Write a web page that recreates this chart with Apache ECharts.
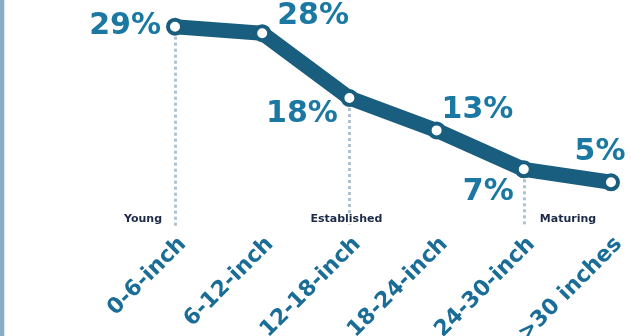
<!DOCTYPE html>
<html>
<head>
<meta charset="utf-8">
<script src="https://cdn.jsdelivr.net/npm/echarts@6/dist/echarts.min.js"></script>
<style>
  html, body { margin: 0; padding: 0; background: #ffffff; }
  #chart { width: 631px; height: 336px; }
</style>
</head>
<body>
<div id="chart"></div>
<script>
const categories = ['0-6-inch', '6-12-inch', '12-18-inch', '18-24-inch', '24-30-inch', '>30 inches']
const shares = [29, 28, 18, 13, 7, 5]
const stageNames = ['Young', 'Established', 'Maturing']
const stageAt = [0, 2, 4]   // category index where each stage marker sits

const yMin = -1.9
const yMax = 30

// label placement for each point (style only)
const valueLabelPlace = [
  { position: 'left', distance: 5, offset: [0, 0] },
  { position: 'right', distance: 6, offset: [0, -16.5] },
  { position: 'left', distance: 2.5, offset: [0, 16.7] },
  { position: 'right', distance: 0, offset: [-4, -20.7] },
  { position: 'left', distance: 1, offset: [0, 23] },
  { position: 'top', distance: 6, offset: [-11, 0] }
]
const stageAlign = ['right', 'center', 'left']
const stageDx = [-13, -3, 16]

const lineColor = '#195d7f'
const labelColor = '#1b78a2'

const chart = echarts.init(document.getElementById('chart'))

const option = {
  backgroundColor: '#ffffff',
  animation: false,
  graphic: [
    { type: 'rect', left: 0, top: 0, shape: { width: 4, height: 336 }, style: { fill: '#8badc3' } },
    { type: 'rect', left: 4, top: 0, shape: { width: 1, height: 336 }, style: { fill: '#dbe6ee' } }
  ],
  grid: { left: 175, right: 20, top: 20.2, bottom: 109, outerBoundsMode: 'none', containLabel: false },
  xAxis: {
    type: 'category',
    data: categories,
    boundaryGap: false,
    axisLine: { show: false },
    axisTick: { show: false },
    splitLine: { show: false },
    axisLabel: {
      rotate: 45,
      margin: 6,
      verticalAlign: 'top',
      interval: 0,
      color: '#1a6d96',
      fontFamily: 'DejaVu Sans',
      fontWeight: 'bold',
      fontSize: 22
    }
  },
  yAxis: {
    type: 'value',
    min: yMin,
    max: yMax,
    show: false,
    splitLine: { show: false }
  },
  series: [
    {
      type: 'custom',
      z: 1,
      data: stageAt.map((c, i) => [c, shares[c], stageNames[i]]),
      renderItem: (params, api) => {
        const top = api.coord([api.value(0), api.value(1)])
        const bottom = api.coord([api.value(0), yMin])
        const i = params.dataIndex
        const x = Math.round(top[0]) + 0.5
        return {
          type: 'group',
          children: [
            {
              type: 'line',
              shape: { x1: x, y1: top[1] + 10, x2: x, y2: bottom[1] },
              style: { stroke: '#adc3d2', lineWidth: 3, lineDash: [3, 3] }
            },
            {
              type: 'text',
              x: top[0] + stageDx[i],
              y: bottom[1] - 8,
              style: {
                text: stageNames[i],
                align: stageAlign[i],
                verticalAlign: 'middle',
                fill: '#1c2a48',
                font: 'bold 11px "DejaVu Sans"',
                backgroundColor: i === 1 ? '#ffffff' : null
              }
            }
          ]
        }
      }
    },
    {
      type: 'line',
      z: 3,
      data: shares.map((v, i) => ({
        value: v,
        label: valueLabelPlace[i]
      })),
      lineStyle: { color: lineColor, width: 15, cap: 'round', join: 'round' },
      symbol: 'circle',
      symbolSize: 14,
      itemStyle: { color: '#ffffff', borderColor: lineColor, borderWidth: 4 },
      label: {
        show: true,
        formatter: '{c}%',
        color: labelColor,
        fontFamily: 'DejaVu Sans',
        fontWeight: 'bold',
        fontSize: 30
      }
    }
  ]
}

chart.setOption(option)
</script>
</body>
</html>
